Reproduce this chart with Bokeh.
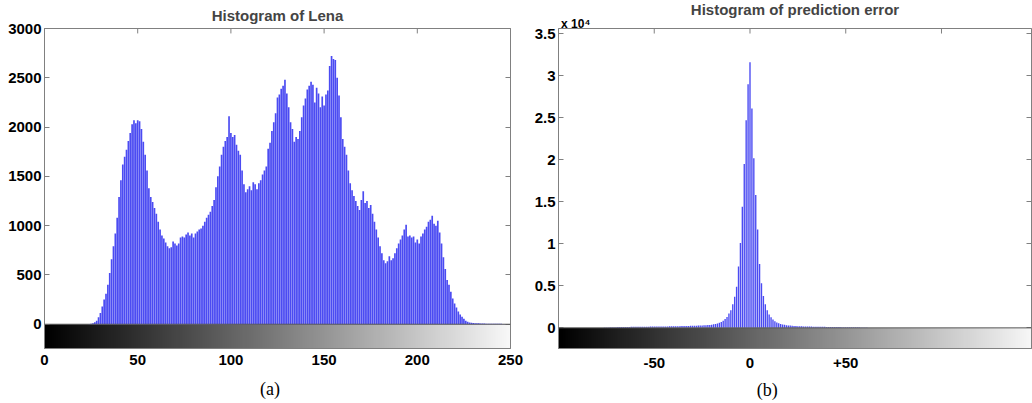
import numpy as np
from bokeh.plotting import figure
from bokeh.layouts import row
from bokeh.models import Range1d, LinearAxis, FixedTicker, Span
from bokeh.embed import file_html
from bokeh.resources import INLINE

# ---------------- data ----------------
lena_levels = list(range(256))
lena_counts = (
    [0] * 24 +
    [2, 5, 10, 20, 35, 70, 115, 180, 250, 310, 400, 520, 660, 790, 920, 1080,   # 24-39
     1290, 1460, 1620, 1700, 1770, 1860, 1940, 2030, 2070, 2040, 2070, 2060,     # 40-51
     1980, 1850, 1720, 1560, 1380, 1290, 1240, 1180, 1120, 1040, 960, 900,       # 52-63
     870, 830, 790, 770, 780, 840, 820, 800, 820, 880, 890, 880,                 # 64-75
     910, 930, 900, 920, 880, 920, 940, 960, 970, 1000, 1040, 1080,              # 76-87
     1110, 1140, 1200, 1260, 1390, 1500, 1600, 1720, 1800, 1860, 1900, 2110,     # 88-99
     1940, 1900, 1920, 1820, 1760, 1720, 1560, 1420, 1340, 1370, 1400, 1360,     # 100-111
     1440, 1420, 1370, 1430, 1460, 1520, 1560, 1600, 1780, 1840, 1960, 2050,     # 112-123
     2140, 2300, 2330, 2390, 2420, 2480, 2340, 2200, 2050, 1980, 1850, 1900,     # 124-135
     1880, 1960, 2100, 2220, 2290, 2380, 2420, 2460, 2430, 2250, 2400, 2340,     # 136-147
     2200, 2310, 2220, 2330, 2370, 2620, 2720, 2690, 2680, 2500, 2320, 2100,     # 148-159
     1880, 1800, 1720, 1560, 1430, 1360, 1300, 1250, 1200, 1160, 1260, 1350,     # 160-171
     1230, 1250, 1180, 1210, 1120, 1040, 960, 880, 790, 720, 650, 620,           # 172-183
     640, 690, 650, 670, 720, 770, 820, 860, 900, 960, 1010, 890,                # 184-195
     900, 880, 890, 830, 860, 820, 890, 920, 960, 990, 1040, 1060,               # 196-207
     1100, 1020, 1000, 1050, 930, 820, 680, 560, 450, 400, 330, 260,             # 208-219
     210, 170, 130, 100, 75, 55, 35, 25, 18, 14, 12, 10,                         # 220-231
     9, 9, 8, 8, 7, 6, 6, 5, 5, 5, 4, 4,                                         # 232-243
     4, 4, 3, 3, 2, 2, 2, 1, 1, 1, 0, 0]                                         # 244-255
)
assert len(lena_counts) == 256

err_values = list(range(-80, 66))
err_counts = (
    [5, 10, 15, 20, 30] +                                                        # -80..-76
    [40, 50, 60, 70, 80, 80, 90, 90, 100, 100, 110, 110, 110, 120, 120] +        # -75..-61
    [120, 130, 130, 130, 130, 140, 140, 140, 150, 150, 150, 150, 160, 160,
     160, 170, 170, 170, 180, 180] +                                             # -60..-41
    [190, 190, 200, 200, 210, 210, 220, 220, 230, 240, 240, 250, 260, 270, 280] +  # -40..-26
    [290, 300, 310, 330, 350] +                                                  # -25..-21
    [380, 420, 460, 520, 600, 700, 850, 1050, 1300, 1700, 2100, 2800, 3700,
     4900, 7300, 10100, 14400, 19500, 24700, 29000] +                            # -20..-1
    [31600] +                                                                    # 0
    [26100, 20200, 15800, 11700, 7600, 5300, 3800, 2800, 2100, 1600, 1250,
     1000, 800, 650, 540, 460, 400, 360, 320, 290] +                             # 1..20
    [270, 250, 230, 220, 200] +                                                  # 21..25
    [190, 180, 170, 160, 160, 150, 150, 140, 140, 130, 130, 120, 120, 120, 110] +  # 26..40
    [110, 100, 100, 100, 90, 90, 90, 80, 80, 80, 80, 70, 70, 70, 60, 60, 60,
     50, 50, 40, 30, 20] +                                                       # 41..62
    [10, 5, 2]                                                                   # 63..65
)
assert len(err_counts) == len(err_values)

lena_xticks = [0, 50, 100, 150, 200, 250]
lena_yticks = [0, 500, 1000, 1500, 2000, 2500, 3000]
err_xticks = [-50, 0, 50]
err_xtick_labels = {-50: "-50", 0: "0", 50: "+50"}
err_top_ticks = [-50, 0, 50, 100]
err_yticks = [0, 5000, 10000, 15000, 20000, 25000, 30000, 35000]
err_ytick_labels = {0: "0", 5000: "0.5", 10000: "1", 15000: "1.5", 20000: "2",
                    25000: "2.5", 30000: "3", 35000: "3.5"}
err_scale_text = "x 10\u2074"
caption_a, caption_b = "(a)", "(b)"

BAR = "#4B4BF2"
GRAY = "#808080"
FONT = "Liberation Sans"

# layout positions (data coordinates where captions sit)
CAP_A_X = 121
CAP_B_X = 9
SCALE_X = -91

# view ranges (both frames share the same pixel box in the row layout)
X1 = (0, 250)
Y1 = (-246, 3000)
X2 = (-100, 147)
Y2 = (-2456, 35629)


def gradient(n):
    g = np.linspace(0, 248, n).astype(np.uint8)
    img = np.empty((1, n), dtype=np.uint32)
    v = img.view(dtype=np.uint8).reshape((1, n, 4))
    v[0, :, 0] = g
    v[0, :, 1] = g
    v[0, :, 2] = g
    v[0, :, 3] = 255
    return img


def base_style(p):
    p.xgrid.visible = False
    p.ygrid.visible = False
    p.outline_line_color = GRAY
    p.background_fill_color = "white"
    p.border_fill_color = "white"
    p.title.text_font = FONT
    p.title.text_font_size = "15px"
    p.title.text_font_style = "bold"
    p.title.align = "center"
    for ax in (p.below[0], p.left[0]):
        ax.axis_line_color = GRAY
        ax.major_tick_line_color = GRAY
        ax.minor_tick_line_color = None
        ax.major_tick_in = 5
        ax.major_tick_out = 0
        ax.major_label_text_font = FONT
        ax.major_label_text_font_size = "15px"
        ax.major_label_text_font_style = "bold"
        ax.major_label_text_color = "black"
        ax.major_label_standoff = 3
    p.below[0].major_tick_in = 0


def tick_only_axis(ticks):
    return LinearAxis(ticker=FixedTicker(ticks=ticks), major_label_text_color=None,
                      major_label_text_font_size="1px", major_label_standoff=0,
                      axis_line_color=GRAY, major_tick_line_color=GRAY,
                      major_tick_in=5, major_tick_out=0, minor_tick_line_color=None)


def text_axis(pos, text, font, size, style, standoff):
    return LinearAxis(ticker=FixedTicker(ticks=[pos]), major_label_overrides={pos: text},
                      major_label_text_font=font, major_label_text_font_size=size,
                      major_label_text_font_style=style, major_label_text_color="black",
                      major_label_standoff=standoff, axis_line_color=None,
                      major_tick_in=0, major_tick_out=0,
                      major_tick_line_color=None, minor_tick_line_color=None)


# ---------------- panel (a) ----------------
p1 = figure(width=528, height=402, output_backend="svg", toolbar_location=None,
            title="Histogram of Lena",
            x_range=Range1d(*X1), y_range=Range1d(*Y1),
            min_border_left=44, min_border_right=18, min_border_top=28, min_border_bottom=53)
p1.image_rgba(image=[gradient(256)], x=X1[0], y=Y1[0], dw=X1[1] - X1[0], dh=-Y1[0])
p1.vbar(x=lena_levels, top=lena_counts, bottom=0, width=0.9,
        fill_color=BAR, line_color=None)
p1.add_layout(Span(location=0, dimension="width", line_color="#555555", line_width=1))
p1.segment(x0=lena_xticks, y0=[Y1[1]] * len(lena_xticks), x1=lena_xticks,
           y1=[Y1[1] - 50] * len(lena_xticks), line_color=GRAY, line_width=1)
p1.xaxis.ticker = FixedTicker(ticks=lena_xticks)
p1.yaxis.ticker = FixedTicker(ticks=lena_yticks)
base_style(p1)
p1.title.standoff = 6
p1.title.vertical_align = "top"
p1.below[0].major_label_standoff = 6
p1.add_layout(tick_only_axis(lena_yticks), "right")
p1.add_layout(text_axis(CAP_A_X, caption_a, "Liberation Serif", "18px", "normal", 11), "below")

# ---------------- panel (b) ----------------
p2 = figure(width=504, height=402, output_backend="svg", toolbar_location=None,
            title="Histogram of prediction error",
            x_range=Range1d(*X2), y_range=Range1d(*Y2),
            min_border_left=30, min_border_right=1, min_border_top=28, min_border_bottom=53)
p2.image_rgba(image=[gradient(256)], x=X2[0], y=Y2[0], dw=248, dh=-Y2[0])
p2.vbar(x=err_values, top=err_counts, bottom=0, width=0.72,
        fill_color=BAR, line_color=None)
p2.add_layout(Span(location=0, dimension="width", line_color="#555555", line_width=1))
p2.segment(x0=err_top_ticks, y0=[Y2[1]] * len(err_top_ticks), x1=err_top_ticks,
           y1=[Y2[1] - 600] * len(err_top_ticks), line_color=GRAY, line_width=1)
p2.xaxis.ticker = FixedTicker(ticks=err_xticks)
p2.xaxis.major_label_overrides = err_xtick_labels
p2.yaxis.ticker = FixedTicker(ticks=err_yticks)
p2.yaxis.major_label_overrides = err_ytick_labels
base_style(p2)
p2.title.standoff = -8
p2.below[0].major_label_standoff = 9
p2.add_layout(tick_only_axis(err_yticks), "right")
p2.add_layout(text_axis(SCALE_X, err_scale_text, FONT, "12px", "bold", -2), "above")
p2.add_layout(text_axis(CAP_B_X, caption_b, "Liberation Serif", "18px", "normal", 9), "below")

layout = row(p1, p2)
open("out.html", "w").write(file_html(layout, INLINE))
